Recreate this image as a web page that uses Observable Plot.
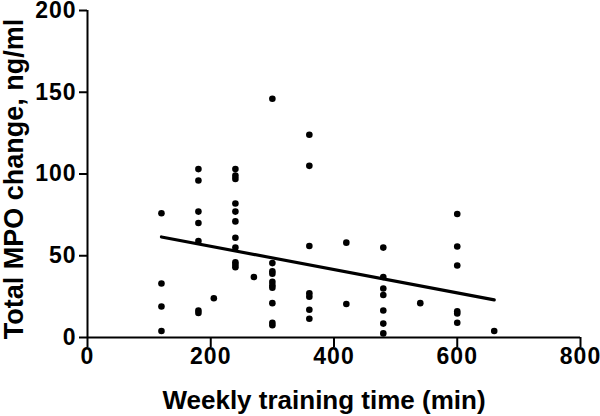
<!DOCTYPE html>
<html>
<head>
<meta charset="utf-8">
<script src="https://cdn.jsdelivr.net/npm/d3@7"></script>
<script src="https://cdn.jsdelivr.net/npm/@observablehq/plot@0.6"></script>
<style>
  html, body { margin: 0; padding: 0; background: #fff; }
  svg { display: block; }
</style>
</head>
<body>
<div id="chart"></div>
<script>
// Weekly training time (min) per subject
const trainingMin = [
  120, 120, 120, 120,
  180, 180, 180, 180, 180, 180, 180,
  205,
  240, 240, 240, 240, 240, 240, 240, 240, 240, 240, 240,
  270,
  300, 300, 300, 300, 300, 300, 300, 300, 300, 300,
  360, 360, 360, 360, 360, 360, 360,
  420, 420,
  480, 480, 480, 480, 480, 480, 480,
  540,
  600, 600, 600, 600, 600, 600,
  660
];
// Total MPO change, ng/ml
const mpoChange = [
  76, 33, 19, 4,
  103, 96, 77, 70, 59, 16.5, 15,
  24,
  103, 99, 97, 82, 77, 71, 61, 55, 46, 44.5, 43,
  37,
  146, 45.5, 40.5, 39, 34, 32, 30.5, 21, 9, 7.5,
  124, 105, 56, 27, 25, 17, 11.5,
  58, 20.5,
  55, 37, 30, 26, 16.5, 8.5, 2.5,
  21,
  75.5, 55.7, 44, 16, 14.7, 9,
  4
];
// Fitted regression line endpoints
const fitX = [120, 660];
const fitY = [61.5, 23];

const xTicks = [0, 200, 400, 600, 800];
const yTicks = [0, 50, 100, 150, 200];
const xTitle = "Weekly training time (min)";
const yTitle = "Total MPO change, ng/ml";

const points = trainingMin.map((x, i) => ({x, y: mpoChange[i]}));
const fit = fitX.map((x, i) => ({x, y: fitY[i]}));

const font = "'Liberation Sans', Arial, Helvetica, sans-serif";

const chart = Plot.plot({
  width: 600,
  height: 416,
  marginLeft: 87,
  marginRight: 20,
  marginTop: 10,
  marginBottom: 79,
  style: {fontFamily: font, fontWeight: "bold", color: "#000", background: "#fff", overflow: "visible"},
  x: {domain: [0, 800], ticks: xTicks},
  y: {domain: [0, 200], ticks: yTicks},
  marks: [
    Plot.axisX({ticks: xTicks, tickSize: 10, tickPadding: 0, strokeWidth: 2, fontSize: 23, label: null}),
    Plot.axisY({ticks: yTicks, tickSize: 8, tickPadding: 3, strokeWidth: 2, fontSize: 23, label: null}),
    Plot.ruleY([0], {x1: 0, x2: 800, stroke: "#000", strokeWidth: 2}),
    Plot.ruleX([0], {y1: 0, y2: 200, stroke: "#000", strokeWidth: 2}),
    Plot.line(fit, {x: "x", y: "y", stroke: "#000", strokeWidth: 3.2}),
    Plot.dot(points, {x: "x", y: "y", r: 3.3, fill: "#000", stroke: null}),
    Plot.text([xTitle], {frameAnchor: "bottom", text: d => d, dx: -10, dy: 63, lineAnchor: "middle", textAnchor: "middle", fontSize: 26, fontWeight: "bold", fill: "#000"}),
    Plot.text([yTitle], {frameAnchor: "left", text: d => d, rotate: -90, dx: -73, dy: 5, lineAnchor: "middle", textAnchor: "middle", fontSize: 27, fontWeight: "bold", fill: "#000"})
  ]
});
// slightly wider digit spacing, as in the reference
d3.select(chart).selectAll('g[aria-label="x-axis tick label"] text, g[aria-label="y-axis tick label"] text')
  .style("letter-spacing", "1px");
document.getElementById("chart").appendChild(chart);
</script>
</body>
</html>
